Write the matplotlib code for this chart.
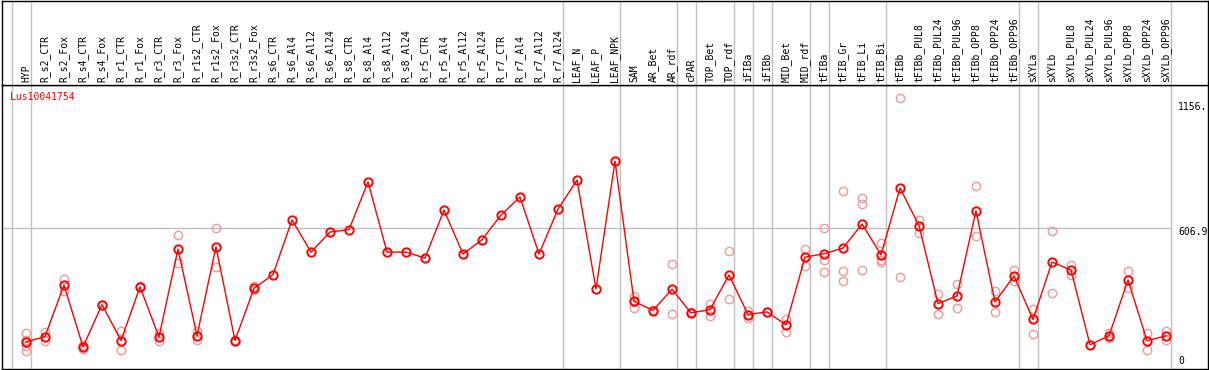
import matplotlib
matplotlib.use('Agg')
import matplotlib.pyplot as plt
from matplotlib.transforms import blended_transform_factory

gene = 'Lus10041754'

samples = ['HYP', 'R_s2_CTR', 'R_s2_Fox', 'R_s4_CTR', 'R_s4_Fox', 'R_r1_CTR', 'R_r1_Fox',
           'R_r3_CTR', 'R_r3_Fox', 'R_r1s2_CTR', 'R_r1s2_Fox', 'R_r3s2_CTR', 'R_r3s2_Fox',
           'R_s6_CTR', 'R_s6_Al4', 'R_s6_Al12', 'R_s6_Al24', 'R_s8_CTR', 'R_s8_Al4',
           'R_s8_Al12', 'R_s8_Al24', 'R_r5_CTR', 'R_r5_Al4', 'R_r5_Al12', 'R_r5_Al24',
           'R_r7_CTR', 'R_r7_Al4', 'R_r7_Al12', 'R_r7_Al24', 'LEAF_N', 'LEAF_P', 'LEAF_NPK',
           'SAM', 'AR_Bet', 'AR_rdf', 'cPAR', 'TOP_Bet', 'TOP_rdf', 'iFIBa', 'iFIBb',
           'MID_Bet', 'MID_rdf', 'tFIBa', 'tFIB_Gr', 'tFIB_Li', 'tFIB_Bi', 'tFIBb',
           'tFIBb_PUL8', 'tFIBb_PUL24', 'tFIBb_PUL96', 'tFIBb_OPP8', 'tFIBb_OPP24',
           'tFIBb_OPP96', 'sXYLa', 'sXYLb', 'sXYLb_PUL8', 'sXYLb_PUL24', 'sXYLb_PUL96',
           'sXYLb_OPP8', 'sXYLb_OPP24', 'sXYLb_OPP96']

# mean expression per sample
means = [125, 148, 366, 104, 283, 131, 358, 146, 518, 152, 528, 131, 352,
         410, 641, 505, 590, 600, 802, 505, 505, 480, 683, 497, 557, 662, 738,
         497, 687, 810, 349, 890,
         297, 258, 348, 248, 262, 408, 241, 252, 197, 484,
         498, 522, 624, 493, 776, 617, 287, 320, 680, 294, 404,
         220, 463, 429, 113, 151, 387, 130, 151]

# replicate values (empty = hidden under the mean marker)
reps = [[163, 135, 107, 86], [166, 128], [393, 341], [97, 110], [283, 283],
        [173, 92], [360, 356], [163, 128], [577, 459], [170, 135], [607, 442],
        [135, 127], [360, 346],
        [], [], [], [], [], [], [], [], [], [], [], [], [], [], [], [], [], [], [],
        [318, 293, 267], [259], [455, 244], [250, 246], [287, 234], [508, 307],
        [255, 238, 228], [252], [224, 168], [518, 446],
        [607, 470, 421], [764, 427, 384], [735, 707, 429], [545, 463, 471],
        [1156, 400], [642, 584], [329, 244], [372, 269], [784, 573], [339, 252],
        [428, 383],
        [265, 159], [594, 332], [452, 408], [113], [163, 141], [427, 353],
        [163, 92], [170, 135]]

group_ends = [-1, 0, 28, 31, 34, 35, 37, 38, 39, 41, 42, 45, 52, 53, 60]
mid_value = 606.9
right_labels = [(1156, '1156.', -9), (606.9, '606.9', -4), (0, '0', 10)]

W, H = 1209, 370
fig = plt.figure(figsize=(W / 100, H / 100), dpi=100)
xl = ((1.5 - 26) / 19, (1207.5 - 26) / 19)
ax = fig.add_axes([1.5 / W, 1.5 / H, 1206 / W, 283.5 / H])
hx = fig.add_axes([1.5 / W, 285 / H, 1206 / W, 84.5 / H])

for a in (ax, hx):
    a.set_xlim(*xl)
    a.set_xticks([])
    a.set_yticks([])
    for s in a.spines.values():
        s.set_color('black')
        s.set_linewidth(1.0)
    for g in group_ends:
        a.axvline(g + 0.24, color='#c0c0c0', lw=1.0, zorder=1)

ax.set_ylim((372 - 369) / 0.2368, (372 - 85) / 0.2368)
ax.hlines(mid_value, xl[0], group_ends[-1] + 0.24, color='#c0c0c0', lw=1.0, zorder=1)
hx.set_ylim(0, 1)

fs = 7
mono = 'DejaVu Sans Mono'
trans = blended_transform_factory(hx.transData, hx.transAxes)
for i, name in enumerate(samples):
    hx.text(i, 0.03, name, rotation=90, ha='center', va='bottom',
            fontsize=fs, family=mono, transform=trans)

for i, vals in enumerate(reps):
    if vals:
        ax.plot([i] * len(vals), vals, linestyle='none', marker='o', ms=6,
                mfc='none', mec='#f09a9a', mew=1.0, zorder=2)

ax.plot(range(len(means)), means, color='red', lw=1.0, zorder=3)
ax.plot(range(len(means)), means, linestyle='none', marker='o', ms=6,
        mfc='none', mec='red', mew=1.4, zorder=4)

ax.text(0.007, 0.957, gene, color='red', fontsize=fs, family=mono,
        transform=ax.transAxes, ha='left', va='center')

for val, lab, dy in right_labels:
    ax.annotate(lab, xy=((1178 - 26) / 19, val), xytext=(0, dy),
                textcoords='offset pixels', ha='left', va='center',
                fontsize=fs, family=mono, annotation_clip=False)

fig.savefig('out.png', dpi=100)
